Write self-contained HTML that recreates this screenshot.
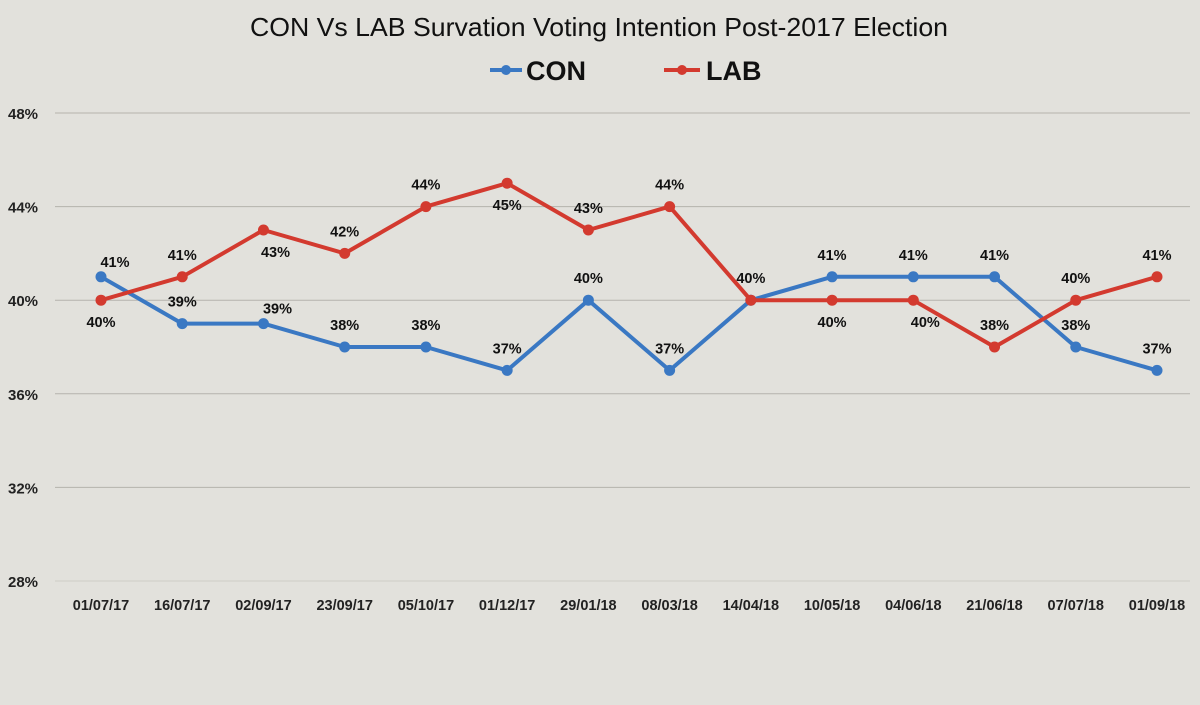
<!DOCTYPE html>
<html><head><meta charset="utf-8"><style>
body{margin:0;background:#e2e1dc;}
svg{display:block;font-family:"Liberation Sans",sans-serif;}
</style></head><body>
<svg id="c" width="1200" height="705">
<rect x="0" y="0" width="1200" height="705" fill="#e2e1dc"/>
<text x="250" y="36" font-size="26" fill="#111" textLength="698" lengthAdjust="spacingAndGlyphs">CON Vs LAB Survation Voting Intention Post-2017 Election</text>
<g>
<line x1="490" y1="70" x2="522" y2="70" stroke="#3a78c3" stroke-width="4"/><circle cx="506" cy="70" r="5" fill="#3a78c3"/>
<text x="526" y="80" font-size="27" font-weight="bold" fill="#111">CON</text></g>
<g>
<line x1="664" y1="70" x2="700" y2="70" stroke="#d33a2f" stroke-width="4"/><circle cx="682" cy="70" r="5" fill="#d33a2f"/>
<text x="706" y="80" font-size="27" font-weight="bold" fill="#111">LAB</text></g>
<g id="grid"></g><g id="xl"></g><g id="series"></g>
</svg>
<script>
const categories=["01/07/17","16/07/17","02/09/17","23/09/17","05/10/17","01/12/17","29/01/18","08/03/18","14/04/18","10/05/18","04/06/18","21/06/18","07/07/18","01/09/18"];
const conValues=[41,39,39,38,38,37,40,37,40,41,41,41,38,37];
const labValues=[40,41,43,42,44,45,43,44,40,40,40,38,40,41];
const yTicks=[28,32,36,40,44,48];
const conLabelPos=["ar","a","ar","a","a","a","a","a","a","a","a","a","a","a"];
const labLabelPos=["b","a","br","a","a","b","a","a","n","b","br","a","a","a"];
const NS="http://www.w3.org/2000/svg";
const y=v=>581-(v-28)*(581-113)/20;
const x=i=>101+i*(1157-101)/(categories.length-1);
function el(t,a,p){const e=document.createElementNS(NS,t);for(const k in a)e.setAttribute(k,a[k]);p.appendChild(e);return e;}
const g=document.getElementById('grid');
yTicks.forEach(t=>{
 const l=el('line',{x1:55,x2:1190,y1:y(t),y2:y(t),stroke:t==28?'#cfcdc6':'#b5b3ad','stroke-width':1},g);
 
 
 const tx=el('text',{x:8,y:y(t)+6,'font-size':15,'font-weight':'bold',fill:'#222'},g);tx.textContent=t+'%';
 
 
});
const xl=document.getElementById('xl');
categories.forEach((c,i)=>{
 const tx=el('text',{x:x(i),y:610,'text-anchor':'middle','font-size':14.5,'font-weight':'bold',fill:'#222'},xl);tx.textContent=c;
 
 
});
const s=document.getElementById('series');
function draw(vals,col,name,pos){
 const gg=el('g',{},s);
 
 
 const pl=el('polyline',{points:vals.map((v,i)=>x(i)+','+y(v)).join(' '),fill:'none',stroke:col,'stroke-width':4,'stroke-linejoin':'round'},gg);
 
 
 vals.forEach((v,i)=>{
  const c=el('circle',{cx:x(i),cy:y(v),r:5.5,fill:col},gg);
  
  
  const p=pos[i];if(p=='n')return;
  let dx=0,dy=-17;
  if(p=='b')dy=27;if(p=='ar'){dx=14;dy=-10;}if(p=='br'){dx=12;dy=27;}
  const t=el('text',{x:x(i)+dx,y:y(v)+dy,'text-anchor':'middle','font-size':14.5,'font-weight':'bold',fill:'#111'},gg);t.textContent=v+'%';
  
  
 });
}
draw(conValues,'#3a78c3','con',conLabelPos);
draw(labValues,'#d33a2f','lab',labLabelPos);
</script>
</body></html>
